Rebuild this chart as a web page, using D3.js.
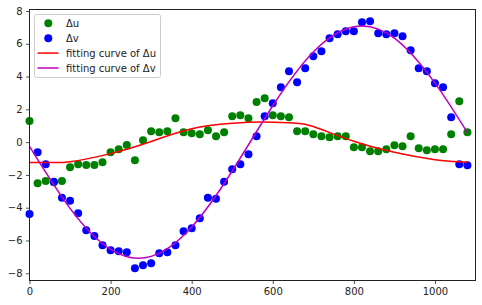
<!DOCTYPE html>
<html>
<head>
<meta charset="utf-8">
<script src="https://cdn.jsdelivr.net/npm/d3@7"></script>
<style>
  body { margin: 0; background: #fff; }
  svg { display: block; font-family: "DejaVu Sans", sans-serif; }
</style>
</head>
<body>
<svg class="svg-canvas" width="482" height="305"></svg>
<script>
// sample positions (same for both series)
var xs = d3.range(0, 1081, 20);

var du = [1.29, -2.51, -2.37, -2.45, -2.37, -1.53, -1.35, -1.39, -1.39, -1.23,
  -0.62, -0.43, -0.17, -1.11, 0.12, 0.66, 0.6, 0.66, 1.46, 0.6,
  0.54, 0.48, 0.72, 0.36, 0.6, 1.58, 1.64, 1.46, 2.45, 2.68,
  1.64, 1.58, 1.52, 0.66, 0.66, 0.48, 0.36, 0.3, 0.36, 0.36,
  -0.31, -0.31, -0.56, -0.56, -0.43, -0.19, -0.25, 0.36, -0.37, -0.49,
  -0.43, -0.43, 0.48, 2.5, 0.6];

var dv = [-4.38, -0.62, -1.35, -2.41, -3.4, -3.58, -4.34, -5.38, -5.72, -6.29,
  -6.6, -6.66, -6.72, -7.7, -7.51, -7.39, -6.78, -6.72, -6.29, -5.44,
  -5.25, -4.64, -3.4, -3.45, -2.41, -1.66, -1.35, -0.74, 0.36, 1.58,
  2.37, 3.35, 4.33, 3.65, 4.51, 5.24, 5.55, 6.34, 6.58, 6.77,
  6.77, 7.31, 7.38, 6.64, 6.58, 6.64, 6.46, 5.61, 4.51, 4.33,
  3.59, 3.35, 1.52, -1.35, -1.41];

// fitted curves
var fitUx = [0, 50, 100, 200, 300, 400, 500, 575, 650, 700, 800, 900, 1000, 1080];
var fitUy = [-1.25, -1.24, -1.19, -0.7, 0.04, 0.82, 1.15, 1.23, 1.17, 0.95, 0.05, -0.62, -1.07, -1.23];
var fitVx = [0, 100, 200, 300, 400, 500, 600, 700, 800, 900, 1000, 1080];
var fitVy = [-0.26, -4.04, -6.54, -6.97, -5.18, -1.76, 2.22, 5.5, 7.04, 6.34, 3.6, 0.58];

var xTicks = [0, 200, 400, 600, 800, 1000];
var yTicks = [-8, -6, -4, -2, 0, 2, 4, 6, 8];
var legendLabels = ["\u0394u", "\u0394v", "fitting curve of \u0394u", "fitting curve of \u0394v"];

var svg = d3.select(".svg-canvas");
var padL = 29.5, padR = 475.5, padT = 9.5, padB = 280.5;

var x = d3.scaleLinear().domain([0, 1100]).range([padL, padR]);
var y = d3.scaleLinear().domain([-8.44, 8.09]).range([padB, padT]);

var fmt = d3.format("d");

var gx = svg.append("g")
  .attr("transform", "translate(0," + padB + ")")
  .call(d3.axisBottom(x).tickValues(xTicks).tickFormat(fmt).tickSize(3.5).tickPadding(3.5).tickSizeOuter(0));
var gy = svg.append("g")
  .attr("transform", "translate(" + padL + ",0)")
  .call(d3.axisLeft(y).tickValues(yTicks).tickFormat(fmt).tickSize(3.5).tickPadding(3.5).tickSizeOuter(0));
[gx, gy].forEach(function(g) {
  g.select(".domain").remove();
  g.selectAll("line").attr("stroke", "#222").attr("stroke-width", 0.8);
  g.selectAll("text").attr("fill", "#222").style("font-size", "10px").style("font-family", "DejaVu Sans");
});

var plot = svg.append("g");

plot.selectAll(".du").data(xs).enter()
  .append("circle")
  .attr("cx", function(d) { return x(d); })
  .attr("cy", function(d, i) { return y(du[i]); })
  .attr("r", 4)
  .attr("fill", "green");

plot.selectAll(".dv").data(xs).enter()
  .append("circle")
  .attr("cx", function(d) { return x(d); })
  .attr("cy", function(d, i) { return y(dv[i]); })
  .attr("r", 4)
  .attr("fill", "blue");

var line = d3.line()
  .x(function(d) { return x(d[0]); })
  .y(function(d) { return y(d[1]); })
  .curve(d3.curveNatural);

plot.append("path")
  .datum(d3.zip(fitUx, fitUy))
  .attr("d", line)
  .attr("fill", "none")
  .attr("stroke", "red")
  .attr("stroke-width", 1.5);

plot.append("path")
  .datum(d3.zip(fitVx, fitVy))
  .attr("d", line)
  .attr("fill", "none")
  .attr("stroke", "#bf00bf")
  .attr("stroke-width", 1.5);

// frame
svg.append("rect")
  .attr("x", padL).attr("y", padT)
  .attr("width", padR - padL).attr("height", padB - padT)
  .attr("fill", "none").attr("stroke", "#222").attr("stroke-width", 1);

// legend
var lg = svg.append("g");
lg.append("rect")
  .attr("x", 34.5).attr("y", 14.5)
  .attr("width", 126).attr("height", 63)
  .attr("rx", 2)
  .attr("fill", "white").attr("fill-opacity", 0.8)
  .attr("stroke", "#ccc").attr("stroke-width", 1);

var legendColors = ["green", "blue", "red", "#bf00bf"];
legendLabels.forEach(function(t, i) {
  var ly = 23.3 + i * 14.9;
  if (i < 2) {
    lg.append("circle").attr("cx", 48.3).attr("cy", ly).attr("r", 4).attr("fill", legendColors[i]);
  } else {
    lg.append("line").attr("x1", 37.5).attr("x2", 58.5).attr("y1", ly).attr("y2", ly)
      .attr("stroke", legendColors[i]).attr("stroke-width", 1.5);
  }
  lg.append("text")
    .attr("x", 66).attr("y", ly)
    .attr("dy", "0.36em")
    .attr("fill", "#222")
    .style("font-size", "10px")
    .text(t);
});
</script>
</body>
</html>
